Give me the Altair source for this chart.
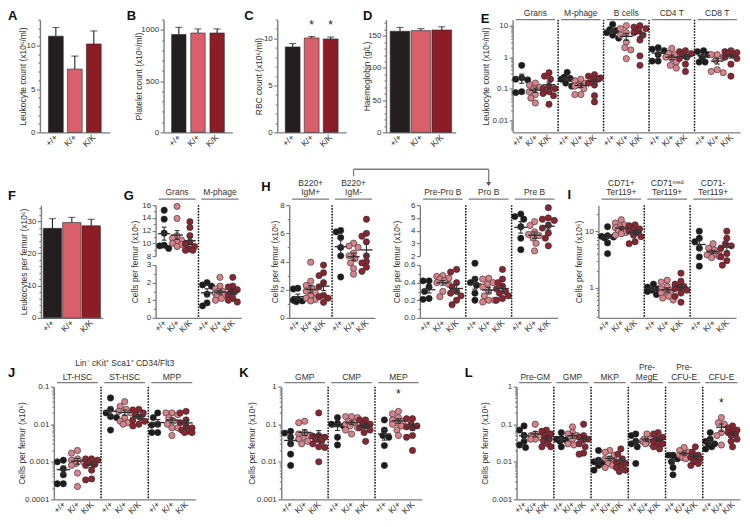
import json
import math
import altair as alt
import pandas as pd

# ---------------------------------------------------------------- data
GENO = ["+/+", "K/+", "K/K"]

A_MEAN = [11.1, 7.3, 10.2]
A_ERR = [1.0, 1.5, 1.5]
B_MEAN = [955, 970, 970]
B_ERR = [70, 40, 40]
C_MEAN = [9.1, 10.05, 9.95]
C_ERR = [0.35, 0.15, 0.2]
D_MEAN = [157, 158, 159]
D_ERR = [6, 3, 5]
F_MEAN = [27.8, 29.6, 28.6]
F_ERR = [3.0, 1.6, 2.0]

E_GROUPS = ["Grans", "M-phage", "B cells", "CD4 T", "CD8 T"]
E_WT = [[0.55, 0.22, 0.2, 0.19, 0.075, 0.08],
        [0.33, 0.23, 0.21, 0.2, 0.15, 0.12],
        [11, 7.5, 7, 6, 5, 4],
        [2.0, 1.8, 1.6, 1.2, 0.75, 0.75],
        [1.6, 1.5, 1.2, 1.0, 0.7, 0.7]]
E_KI = [[0.15, 0.13, 0.11, 0.1, 0.08, 0.065, 0.05, 0.035],
        [0.2, 0.18, 0.15, 0.13, 0.1, 0.065, 0.065, 0.12],
        [10, 8, 6, 5, 3, 2, 1.7, 0.9],
        [1.9, 1.3, 1.2, 1.0, 0.9, 0.7, 0.55, 0.45],
        [1.2, 1.2, 1.0, 0.8, 0.4, 0.35, 0.32]]
E_KK = [[0.32, 0.25, 0.2, 0.12, 0.1, 0.1, 0.08, 0.07, 0.06, 0.032],
        [0.28, 0.25, 0.22, 0.2, 0.2, 0.15, 0.13, 0.06, 0.038],
        [10, 9, 8, 7, 6, 5, 3.5, 1.1, 0.55],
        [1.6, 1.5, 1.3, 1.2, 1.0, 0.9, 0.6, 0.35],
        [1.6, 1.5, 1.4, 1.3, 1.2, 1.0, 0.9, 0.6, 0.25]]

G_GROUPS = ["Grans", "M-phage"]
G_WT = [[15.2, 13.8, 11.6, 9.7, 9.2, 9.6], [2.0, 1.87, 1.8, 1.35, 0.85, 0.68]]
G_KI = [[15.8, 13.9, 11.2, 10.8, 10.5, 10.2, 10.0, 9.8, 9.5],
        [2.3, 1.8, 1.65, 1.5, 1.5, 1.4, 1.35, 1.3, 1.2, 1.1, 1.0]]
G_KK = [[13.4, 12.5, 11.2, 10.2, 9.9, 9.5, 9.1, 8.9, 8.9],
        [2.3, 1.8, 1.75, 1.6, 1.5, 1.45, 1.3, 1.1, 1.0, 0.9]]

HL_GROUPS = ["B220+\nIgM+", "B220+\nIgM-"]
HL_WT = [[2.1, 2.05, 1.3, 1.2, 1.15, 1.25], [6.2, 6.1, 5.7, 5.0, 4.4, 2.9]]
HL_KI = [[3.95, 2.6, 2.3, 2.1, 1.8, 1.6, 1.4, 1.3, 1.2, 1.9],
         [5.3, 5.1, 5.0, 4.6, 4.4, 4.2, 3.9, 3.5, 3.1]]
HL_KK = [[3.75, 3.2, 3.0, 2.5, 2.2, 1.6, 1.5, 1.4, 1.1],
         [7.0, 6.0, 5.8, 5.4, 4.4, 4.0, 3.9, 3.6, 3.3]]

HR_GROUPS = ["Pre-Pro B", "Pro B", "Pre B"]
HR_WT = [[0.42, 0.42, 0.35, 0.3, 0.22, 0.21],
         [0.62, 0.44, 0.4, 0.37, 0.28, 0.2],
         [5.3, 5.1, 4.9, 4.3, 3.4, 2.5]]
HR_KI = [[0.48, 0.47, 0.45, 0.44, 0.42, 0.4, 0.38, 0.3, 0.24],
         [0.45, 0.44, 0.4, 0.38, 0.35, 0.3, 0.25, 0.2, 0.2, 0.18],
         [4.7, 4.4, 3.9, 3.7, 3.6, 3.4, 3.0, 2.4]]
HR_KK = [[0.55, 0.52, 0.4, 0.35, 0.3, 0.28, 0.25, 0.2, 0.15],
         [0.55, 0.44, 0.4, 0.36, 0.33, 0.3, 0.28, 0.25, 0.22, 0.2],
         [5.8, 5.0, 4.9, 4.8, 4.4, 4.2, 3.8, 3.4, 2.8]]

I_GROUPS = ["CD71+\nTer119+", "CD71\u1d50\u1d49\u1d48\nTer119+", "CD71-\nTer119+"]
I_WT = [[12, 8.3, 8.1, 7.9, 7.6, 6.2, 4.0],
        [1.15, 1.02, 0.95, 0.9, 0.85, 0.75],
        [10, 7.5, 6.5, 5, 3.5, 2.4]]
I_KI = [[16, 14, 13, 12, 11.5, 11, 10.5, 10, 9.5, 9, 8.5],
        [1.35, 1.25, 1.05, 0.95, 0.9, 0.85, 0.8, 0.7, 0.65, 0.6],
        [6, 5, 4.6, 4.3, 4.1, 3.9, 3.8, 3.6, 3.4]]
I_KK = [[13, 12.5, 11, 10.5, 10, 9.5, 8.5, 8, 6.5, 6],
        [1.8, 1.3, 1.15, 1.05, 1.0, 0.95, 0.9, 0.8, 0.7, 0.55],
        [10, 7.5, 6, 5.5, 5, 4, 3.5, 3, 2.5]]

J_GROUPS = ["LT-HSC", "ST-HSC", "MPP"]
J_WT = [[0.0011, 0.001, 0.00065, 0.00045, 0.00026, 0.00026],
        [0.05, 0.025, 0.02, 0.016, 0.015, 0.007],
        [0.02, 0.015, 0.01, 0.0095, 0.006, 0.006]]
J_KI = [[0.002, 0.0017, 0.0012, 0.0011, 0.001, 0.0009, 0.0008, 0.0005, 0.00022],
        [0.04, 0.03, 0.025, 0.022, 0.02, 0.015, 0.012, 0.011, 0.01],
        [0.02, 0.02, 0.018, 0.015, 0.012, 0.01, 0.008, 0.008, 0.005]]
J_KK = [[0.0012, 0.0012, 0.0011, 0.00095, 0.00085, 0.0008, 0.0006, 0.00035, 0.00033],
        [0.025, 0.024, 0.02, 0.018, 0.015, 0.013, 0.012, 0.01, 0.009],
        [0.022, 0.02, 0.013, 0.011, 0.009, 0.008, 0.007, 0.0065, 0.006, 0.006]]

K_GROUPS = ["GMP", "CMP", "MEP"]
K_WT = [[0.065, 0.058, 0.045, 0.03, 0.016, 0.008],
        [0.15, 0.105, 0.1, 0.09, 0.045, 0.028],
        [0.13, 0.07, 0.05, 0.045, 0.027, 0.008]]
K_KI = [[0.12, 0.11, 0.06, 0.055, 0.05, 0.045, 0.04, 0.035, 0.03],
        [0.16, 0.16, 0.15, 0.12, 0.11, 0.1, 0.09, 0.08, 0.07, 0.055],
        [0.22, 0.19, 0.15, 0.13, 0.12, 0.11, 0.1, 0.09, 0.07, 0.05]]
K_KK = [[0.2, 0.05, 0.048, 0.045, 0.04, 0.035, 0.03, 0.025, 0.024, 0.01],
        [0.13, 0.13, 0.1, 0.1, 0.09, 0.08, 0.07, 0.06, 0.035],
        [0.14, 0.14, 0.1, 0.09, 0.085, 0.08, 0.05, 0.045, 0.02]]

L_GROUPS = ["Pre-GM", "GMP", "MKP", "Pre-\nMegE", "Pre-\nCFU-E", "CFU-E"]
L_WT = [[0.09, 0.07, 0.05, 0.035, 0.028, 0.024],
        [0.06, 0.042, 0.04, 0.038, 0.035, 0.025],
        [0.02, 0.011, 0.01, 0.009, 0.008, 0.006],
        [0.055, 0.05, 0.035, 0.03, 0.025, 0.009],
        [0.015, 0.015, 0.012, 0.01, 0.007, 0.0045],
        [0.06, 0.04, 0.035, 0.03, 0.028, 0.025, 0.022]]
L_KI = [[0.1, 0.055, 0.05, 0.045, 0.04, 0.04],
        [0.085, 0.06, 0.055, 0.05, 0.04, 0.03, 0.028],
        [0.02, 0.018, 0.015, 0.012, 0.012, 0.01, 0.009, 0.008, 0.007],
        [0.055, 0.04, 0.038, 0.035, 0.03, 0.03, 0.04],
        [0.024, 0.02, 0.018, 0.016, 0.015, 0.014, 0.013, 0.012],
        [0.15, 0.11, 0.1, 0.06, 0.05, 0.028]]
L_KK = [[0.07, 0.065, 0.055, 0.05, 0.04, 0.035, 0.03, 0.025, 0.025],
        [0.1, 0.05, 0.045, 0.04, 0.04, 0.03, 0.025, 0.017, 0.016],
        [0.022, 0.016, 0.012, 0.01, 0.009, 0.008, 0.007, 0.006, 0.0055],
        [0.06, 0.055, 0.045, 0.04, 0.04, 0.035, 0.03, 0.03, 0.025, 0.022],
        [0.025, 0.018, 0.015, 0.014, 0.013, 0.013, 0.012, 0.01, 0.009, 0.008],
        [0.09, 0.08, 0.07, 0.065, 0.06, 0.055, 0.05, 0.04, 0.035, 0.025]]

# ---------------------------------------------------------------- style
FONT = "Liberation Sans"
H = 113
BAR_COLORS = ["#231f20", "#d9606a", "#8c1d26"]
DOT_COLORS = ["#1c1c1c", "#d8838b", "#8a2632"]
GREY = "#7d7d7d"
INK = "#333333"
POS = [0.6, 1.5, 2.4]
ONE = pd.DataFrame({"z": [0]})
CELLS = "Cells per femur (x10\u2076)"


def log_minor(lo, hi):
    out = []
    for e in range(-5, 3):
        for k in range(2, 10):
            v = k * 10.0 ** e
            if lo <= v <= hi:
                out.append(v)
    return out


def lin_minor(lo, hi, step, major):
    out, v = [], lo
    while v <= hi + 1e-9:
        if all(abs(v - m) > 1e-9 for m in major):
            out.append(round(v, 6))
        v += step
    return out


def y_axis(major, minor, title=None, title_x=-20, fmt="~g"):
    test = "indexof(%s, datum.value) >= 0" % json.dumps(major)
    kw = dict(values=sorted(set(major) | set(minor)),
              labelExpr="%s ? format(datum.value, '%s') : ''" % (test, fmt),
              tickSize={"condition": {"test": test, "value": 3.5}, "value": 2},
              orient="left", labelOverlap=False, labelFlush=False, labelPadding=1.5,
              grid=False)
    if title:
        kw.update(title=title, titleX=title_x, titleY=H / 2, titleAngle=-90,
                  titleAlign="center", titleBaseline="middle")
    else:
        kw["title"] = None
    return alt.Axis(**kw)


def letter_layer(txt, dx, dy):
    return alt.Chart(ONE).mark_text(text=txt, fontSize=13, fontWeight="bold", align="left",
                                    baseline="alphabetic", color="#111").encode(
        x=alt.value(dx), y=alt.value(dy))


def anchor_layers(top, bottom):
    out = []
    for yy in (top, bottom):
        out.append(alt.Chart(ONE).mark_text(text=".", fontSize=1, opacity=0, align="left",
                                            baseline="top").encode(
            x=alt.value(1), y=alt.value(yy)))
    return out


def spacer(w):
    return alt.Chart(ONE).mark_text(text=".", fontSize=1, opacity=0, align="left",
                                    baseline="top").encode(
        x=alt.value(0), y=alt.value(0)).properties(width=w, height=1)


def bar_panel(means, errs, width, domain, major, minor, ytitle, title_x, letter, ldx, ldy,
              anchors, pad_in, pad_out, stars=None):
    df = pd.DataFrame({"g": GENO, "m": means, "hi": [m + e for m, e in zip(means, errs)]})
    xs = alt.Scale(domain=GENO, paddingInner=pad_in, paddingOuter=pad_out)
    xax = alt.Axis(title=None, labelAngle=-45, labelAlign="right", labelBaseline="middle",
                   ticks=False, labelPadding=3, labelFontSize=8.5, grid=False)
    X = alt.X("g:N", scale=xs, axis=xax, sort=GENO)
    ys = alt.Scale(domain=domain, nice=False, zero=True)
    yax = y_axis(major, minor, ytitle, title_x)

    def Y(f):
        return alt.Y(f, type="quantitative", scale=ys, axis=yax)

    bars = alt.Chart(df).mark_bar(stroke="#2a2a2a", strokeWidth=0.6).encode(
        x=X, y=Y("m"),
        color=alt.Color("g:N", scale=alt.Scale(domain=GENO, range=BAR_COLORS), legend=None))
    err = alt.Chart(df).mark_rule(color="#222", strokeWidth=1.1).encode(x=X, y=Y("m"), y2="hi:Q")
    cap = alt.Chart(df).mark_tick(color="#222", thickness=1.1, size=7).encode(x=X, y=Y("hi"))
    layers = [bars, err, cap]
    if stars:
        sdf = pd.DataFrame({"g": stars[0], "sv": stars[1]})
        layers.append(alt.Chart(sdf).mark_text(text="*", fontSize=12, color="#222",
                                               baseline="middle").encode(x=X, y=Y("sv")))
    layers.append(letter_layer(letter, ldx, ldy))
    layers += anchor_layers(*anchors)
    return alt.layer(*layers).properties(width=width, height=H)


def make_pix(seg):
    d0, d1 = seg["domain"]
    rb, rt = seg.get("range") or (H, 0)
    if seg["type"] == "log":
        def f(v):
            return (math.log10(v) - math.log10(d0)) / (math.log10(d1) - math.log10(d0))
    else:
        def f(v):
            return (v - d0) / (d1 - d0)
    return lambda v: rb + (rt - rb) * f(v)


def swarm(vals, pix, pxu, d=5.6, lim=0.4):
    cand = [0.0]
    for k in range(1, 30):
        cand += [-k * 1.5, k * 1.5]
    cand = [c for c in cand if abs(c) <= lim * pxu]
    order = sorted(range(len(vals)), key=lambda i: pix(vals[i]))
    placed, offs = [], [0.0] * len(vals)
    for i in order:
        y = pix(vals[i])
        best, bestd, fb = None, -1, 0.0
        for c in cand:
            md = min([math.hypot(c - px, y - py) for px, py in placed] or [99])
            if md >= d:
                best = c
                break
            if md > bestd:
                bestd, fb = md, c
        if best is None:
            best = fb
        placed.append((best, y))
        offs[i] = best / pxu
    return offs


def dot_panel(groups, wt, ki, kk, width, segs, ytitle, title_x, letter, anchors,
              hdr_base, line_y, stars=(), extra=()):
    n = len(groups)
    pxu = width / (3.0 * n)
    xs = alt.Scale(domain=[0, 3 * n], nice=False, zero=False)
    xax = alt.Axis(values=[g * 3 + p for g in range(n) for p in POS],
                   labelExpr="['+/+','K/+','K/K'][round(((datum.value % 3) - 0.6) / 0.9)]",
                   labelAngle=-45, labelAlign="right", labelBaseline="middle",
                   ticks=False, labelPadding=3, labelFontSize=8.5, title=None,
                   labelOverlap=False, labelFlush=False, grid=False)

    def X(f):
        return alt.X(f, type="quantitative", scale=xs, axis=xax)

    seg_layers = []
    for seg in segs:
        pix = make_pix(seg)
        rows = []
        for gi in seg["groups"]:
            for gj, arr in enumerate((wt[gi], ki[gi], kk[gi])):
                offs = swarm(arr, pix, pxu)
                xc = gi * 3 + POS[gj]
                for v, o in zip(arr, offs):
                    rows.append({"gi": gi, "gj": gj, "geno": GENO[gj], "xc": xc,
                                 "x": xc + o, "v": v})
        df = pd.DataFrame(rows)
        sc = dict(type=seg["type"], domain=seg["domain"], nice=False)
        if seg["type"] == "linear":
            sc["zero"] = False
        if seg.get("range"):
            sc["range"] = list(seg["range"])
        ys = alt.Scale(**sc)
        yax = y_axis(seg["major"], seg["minor"], ytitle if seg.get("title") else None,
                     title_x, seg.get("fmt", "~g"))

        def Y(f, ys=ys, yax=yax):
            return alt.Y(f, type="quantitative", scale=ys, axis=yax)

        pts = alt.Chart(df).mark_circle(size=40, opacity=1, stroke="#2e2e2e",
                                        strokeWidth=0.6).encode(
            x=X("x"), y=Y("v"),
            color=alt.Color("geno:N", scale=alt.Scale(domain=GENO, range=DOT_COLORS),
                            legend=None))
        agg = alt.Chart(df).transform_aggregate(
            m="mean(v)", se="stderr(v)", groupby=["gi", "gj", "xc"]
        ).transform_calculate(
            lo="datum.m - datum.se", hi="datum.m + datum.se",
            xl="datum.xc - 0.42", xr="datum.xc + 0.42",
            cl="datum.xc - 0.17", cr="datum.xc + 0.17")
        vert = agg.mark_rule(color="#333", strokeWidth=1.1).encode(x=X("xc"), y=Y("lo"), y2="hi:Q")
        cap1 = agg.mark_rule(color="#333", strokeWidth=1.1).encode(x=X("cl"), x2="cr:Q", y=Y("lo"))
        cap2 = agg.mark_rule(color="#333", strokeWidth=1.1).encode(x=X("cl"), x2="cr:Q", y=Y("hi"))
        mean = agg.mark_rule(color="#333", strokeWidth=1.4).encode(x=X("xl"), x2="xr:Q", y=Y("m"))
        sub = [pts, vert, cap1, cap2, mean]
        st = [s for s in stars if s[0] in seg["groups"]]
        if st:
            sdf = pd.DataFrame({"sx": [s[0] * 3 + POS[s[1]] for s in st], "sv": [s[2] for s in st]})
            sub.append(alt.Chart(sdf).mark_text(text="*", fontSize=12, color="#222",
                                                baseline="middle").encode(x=X("sx"), y=Y("sv")))
        seg_layers.append(sub)

    last = [g.split("\n")[-1] for g in groups]
    first = [g.split("\n")[0] if "\n" in g else "" for g in groups]
    hdf = pd.DataFrame({"hx": [g * 3 + 1.5 for g in range(n)],
                        "h1": [g * 3 + 0.2 for g in range(n)],
                        "h2": [g * 3 + 2.8 for g in range(n)],
                        "last": last, "first": first})
    deco = []
    if n > 1:
        sdf = pd.DataFrame({"sx": [3 * k for k in range(1, n)]})
        deco.append(alt.Chart(sdf).mark_rule(color="#111", strokeWidth=1.5,
                                             strokeDash=[1.6, 1.3]).encode(
            x=X("sx"), y=alt.value(0), y2=alt.value(H)))
    deco.append(alt.Chart(hdf).mark_text(fontSize=8.5, baseline="alphabetic", color=INK).encode(
        x=X("hx"), y=alt.value(hdr_base), text="last:N"))
    if any(first):
        deco.append(alt.Chart(hdf).mark_text(fontSize=8.5, baseline="alphabetic", color=INK).encode(
            x=X("hx"), y=alt.value(hdr_base - 9.5), text="first:N"))
    deco.append(alt.Chart(hdf).mark_rule(color=GREY, strokeWidth=1.4).encode(
        x=X("h1"), x2="h2:Q", y=alt.value(line_y)))
    if letter:
        deco.append(letter_layer(*letter))
    deco += list(extra)
    deco += anchor_layers(*anchors)

    if len(seg_layers) == 1:
        ch = alt.layer(*seg_layers[0], *deco)
    else:
        ch = alt.layer(*[alt.layer(*s) for s in seg_layers], *deco).resolve_scale(y="independent")
    return ch.properties(width=width, height=H)


def log_seg(lo, hi, major, n):
    return [{"type": "log", "domain": [lo, hi], "groups": list(range(n)), "major": major,
             "minor": log_minor(lo, hi), "title": True}]


def row(items):
    parts = []
    for gap, panel in items:
        parts += [spacer(gap), panel]
    return alt.hconcat(*parts, spacing=0, bounds="flush").resolve_scale(color="independent")


# ---------------------------------------------------------------- row 1
R1 = (-11, H + 35)
pA = bar_panel(A_MEAN, A_ERR, 70, [0, 13], [0, 5, 10], lin_minor(0, 13, 1, [0, 5, 10]),
               "Leukocyte count (x10\u2076/ml)", -17, "A", -32, 0, R1, 0.22, 0.45)
pB = bar_panel(B_MEAN, B_ERR, 69, [0, 1100], [0, 500, 1000],
               lin_minor(0, 1100, 100, [0, 500, 1000]),
               "Platelet count (x10\u2076/ml)", -25, "B", -37, 0, R1, 0.25, 0.42)
pC = bar_panel(C_MEAN, C_ERR, 69, [0, 12], [0, 5, 10], lin_minor(0, 12, 1, [0, 5, 10]),
               "RBC count (x10\u2076/ml)", -19, "C", -33, 0, R1, 0.22, 0.42,
               stars=(["K/+", "K/K"], [11.4, 11.4]))
pD = bar_panel(D_MEAN, D_ERR, 70, [0, 175], [0, 50, 100, 150],
               lin_minor(0, 175, 10, [0, 50, 100, 150]),
               "Haemoglobin (g/L)", -20, "D", -23, 0, R1, 0.06, 0.2)
pE = dot_panel(E_GROUPS, E_WT, E_KI, E_KK, 228,
               log_seg(0.0041, 15.5, [0.01, 0.1, 1, 10], 5),
               "Leukocyte count (x10\u2076/ml)", -27, ("E", -32, 3), R1,
               hdr_base=-4, line_y=0)
row1 = row([(32, pA), (54, pB), (45, pC), (40, pD), (57, pE)])

# ---------------------------------------------------------------- row 2
R2 = (-37, H + 39)
pF = bar_panel(F_MEAN, F_ERR, 62, [0, 35], [0, 10, 20, 30],
               lin_minor(0, 35, 2, [0, 10, 20, 30]),
               "Leukocytes per femur (x10\u2076)", -17, "F", -33, -5, R2, 0.05, 0.12)

G_SEGS = [
    {"type": "linear", "domain": [8, 16], "range": [51, 0], "groups": [0],
     "major": [8, 10, 12, 14, 16], "minor": [9, 11, 13, 15], "title": False},
    {"type": "linear", "domain": [0, 3], "range": [H, 60], "groups": [1],
     "major": [0, 1, 2, 3], "minor": [0.5, 1.5, 2.5], "title": True},
]
pG = dot_panel(G_GROUPS, G_WT, G_KI, G_KK, 86, G_SEGS, CELLS, -21, ("G", -32, -5),
               R2, hdr_base=-10, line_y=-6)

HL_SEG = [{"type": "linear", "domain": [0, 8], "groups": [0, 1], "major": [0, 2, 4, 6, 8],
           "minor": [1, 3, 5, 7], "title": True}]
pHL = dot_panel(HL_GROUPS, HL_WT, HL_KI, HL_KK, 86, HL_SEG, CELLS, -15, ("H", -28, -14),
                R2, hdr_base=-10, line_y=-6)

HR_W = 138
HR_GAP = 45
PROB_X = 4.5 / 9 * HR_W
IGM_X = -(HR_GAP + 86 * 0.25)
arrow = [
    alt.Chart(ONE).mark_rule(color=GREY, strokeWidth=1.3).encode(
        x=alt.value(IGM_X), x2=alt.value(PROB_X), y=alt.value(-36)),
    alt.Chart(ONE).mark_rule(color=GREY, strokeWidth=1.3).encode(
        x=alt.value(IGM_X), y=alt.value(-36), y2=alt.value(-29)),
    alt.Chart(ONE).mark_rule(color=GREY, strokeWidth=1.3).encode(
        x=alt.value(PROB_X), y=alt.value(-36), y2=alt.value(-23)),
    alt.Chart(ONE).mark_point(shape="triangle-down", filled=True, size=24, color="#555",
                              opacity=1).encode(x=alt.value(PROB_X), y=alt.value(-21)),
]
HR_SEGS = [
    {"type": "linear", "domain": [2, 6], "range": [51, 0], "groups": [2],
     "major": [2, 3, 4, 5, 6], "minor": [], "title": False},
    {"type": "linear", "domain": [0, 0.6], "range": [H, 60], "groups": [0, 1],
     "major": [0, 0.2, 0.4, 0.6], "minor": [0.1, 0.3, 0.5], "title": True, "fmt": ".1f"},
]
pHR = dot_panel(HR_GROUPS, HR_WT, HR_KI, HR_KK, HR_W, HR_SEGS, CELLS, -23, None,
                R2, hdr_base=-10, line_y=-6, extra=arrow)

pI = dot_panel(I_GROUPS, I_WT, I_KI, I_KK, 138,
               log_seg(0.29, 29, [1, 10], 3),
               CELLS, -20, ("I", -31, -6), R2, hdr_base=-10, line_y=-6)
row2 = row([(33, pF), (53, pG), (48, pHL), (HR_GAP, pHR), (41, pI)])

# ---------------------------------------------------------------- row 3
R3 = (-29, H + 19)
J_W = 142
jtitle = [alt.Chart(ONE).mark_text(text="Lin\u207b cKit\u207a Sca1\u207a CD34/Flt3", fontSize=8.5,
                                   color=INK, baseline="alphabetic").encode(
    x=alt.value(J_W / 2), y=alt.value(-21))]
pJ = dot_panel(J_GROUPS, J_WT, J_KI, J_KK, J_W,
               log_seg(0.0001, 0.1, [0.0001, 0.001, 0.01, 0.1], 3),
               CELLS, -32, ("J", -46, -10), R3, hdr_base=-7, line_y=-4, extra=jtitle)
pK = dot_panel(K_GROUPS, K_WT, K_KI, K_KK, 141,
               log_seg(0.001, 1, [0.001, 0.01, 0.1, 1], 3),
               CELLS, -30, ("K", -42, -10), R3, hdr_base=-7, line_y=-4,
               stars=[(2, 1, 0.62)])
pL = dot_panel(L_GROUPS, L_WT, L_KI, L_KK, 224,
               log_seg(0.001, 1, [0.001, 0.01, 0.1, 1], 6),
               CELLS, -32, ("L", -52, -10), R3, hdr_base=-7, line_y=-4,
               stars=[(5, 1, 0.36)])
row3 = row([(46, pJ), (86, pK), (95, pL)])

chart = alt.vconcat(row1, row2, row3, spacing=0).resolve_scale(
    color="independent"
).properties(padding=0).configure(font=FONT).configure_view(stroke=None).configure_axis(
    domainColor=GREY, domainWidth=1.4, tickColor=GREY, tickWidth=1.2, labelColor=INK,
    labelFontSize=8, titleFontSize=8.5, titleColor=INK, titleFontWeight="normal", grid=False)

chart.save("out.html", embed_options={"renderer": "svg", "actions": False})
